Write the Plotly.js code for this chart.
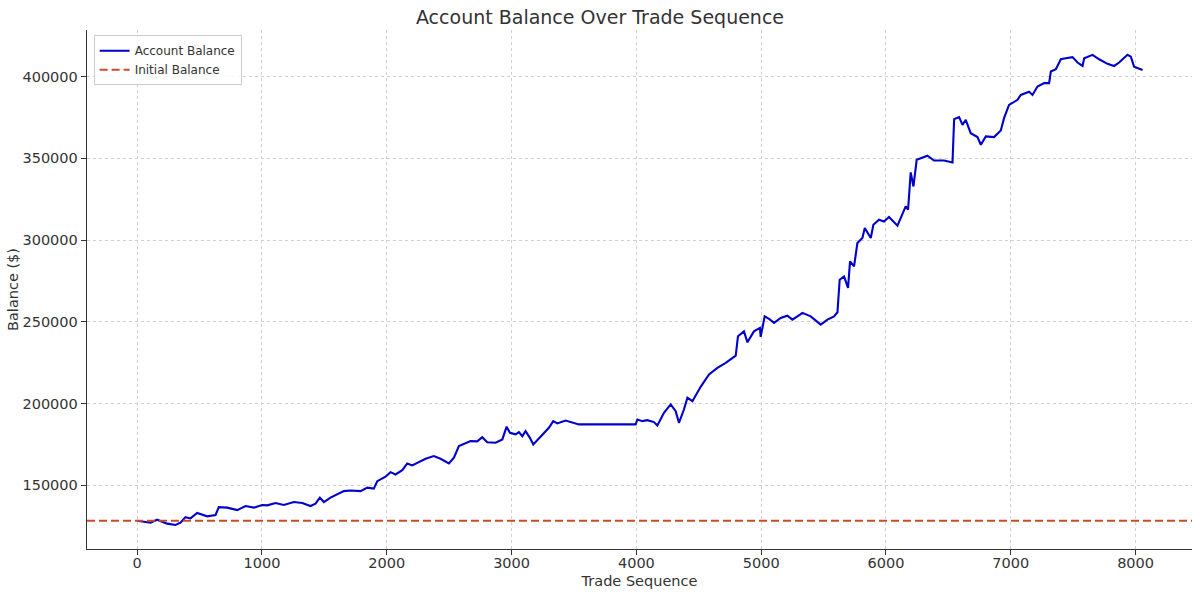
<!DOCTYPE html>
<html>
<head>
<meta charset="utf-8">
<script src="https://cdn.plot.ly/plotly-3.0.1.min.js"></script>
<style>html,body{margin:0;padding:0;background:#fff;}#chart{width:1200px;height:596px;}</style>
</head>
<body>
<div id="chart"></div>
<script>
const initialBalance = 128400;

const tradeIndex = [
  0, 26, 107, 160, 200, 240, 307, 347, 387, 427, 481, 521, 561, 628, 654, 721, 802, 868, 935, 1002,
  1042, 1109, 1175, 1255, 1323, 1389, 1429, 1464, 1496, 1549, 1616, 1656, 1710, 1790, 1844, 1896, 1924, 1990, 2030, 2070,
  2124, 2164, 2204, 2271, 2311, 2377, 2431, 2498, 2538, 2578, 2618, 2672, 2725, 2765, 2805, 2872, 2926, 2960, 2987, 3032,
  3059, 3086, 3112, 3147, 3174, 3219, 3259, 3299, 3334, 3366, 3433, 3500, 3540, 3994, 4008, 4048, 4088, 4141, 4168, 4221,
  4275, 4315, 4341, 4381, 4409, 4449, 4489, 4515, 4582, 4649, 4716, 4769, 4796, 4814, 4862, 4890, 4942, 4990, 4996, 5028,
  5063, 5103, 5156, 5210, 5250, 5311, 5330, 5397, 5477, 5531, 5584, 5611, 5629, 5664, 5696, 5712, 5744, 5771, 5811, 5830,
  5878, 5899, 5944, 5984, 6024, 6092, 6132, 6158, 6177, 6198, 6220, 6246, 6332, 6385, 6465, 6533, 6546, 6586, 6613, 6639,
  6679, 6733, 6760, 6800, 6866, 6920, 6946, 6986, 7054, 7080, 7147, 7174, 7214, 7267, 7307, 7321, 7361, 7401, 7441, 7494,
  7535, 7575, 7588, 7655, 7708, 7775, 7828, 7868, 7935, 7962, 7988, 8016, 8056
];

const accountBalance = [
  128400, 128200, 127200, 129000, 127600, 126600, 125800, 127200, 130600, 129800, 133100, 131900, 131100, 131900, 136700, 136400, 134900, 137400, 136400, 138000,
  137800, 139200, 138000, 139800, 139200, 137400, 138800, 142500, 139800, 142500, 144900, 146500, 146900, 146500, 148600, 148000, 152600, 155300, 158100, 156700,
  159300, 163400, 162200, 164700, 166300, 167900, 166300, 163400, 166900, 174000, 175500, 177100, 176900, 179500, 176400, 176100, 178100, 185900, 182200, 181200,
  182600, 180100, 183200, 179100, 175000, 178500, 182200, 185200, 189300, 187900, 189700, 188300, 187300, 187300, 190300, 189300, 189900, 188700, 186600, 194400,
  199500, 195400, 188300, 196400, 203600, 201500, 206600, 210300, 217800, 221900, 224900, 228000, 229400, 241200, 244200, 237500, 244200, 246300, 240800, 253400,
  251800, 249400, 252400, 253800, 251400, 254400, 255500, 253400, 248300, 251400, 253400, 255900, 275800, 277800, 270800, 287000, 283900, 298200, 301300, 307400,
  301300, 309400, 312500, 311400, 314100, 308800, 316600, 320600, 318600, 341400, 332800, 349100, 351600, 348700, 348700, 347500, 374000, 375200, 370500, 373600,
  365400, 363000, 358300, 363400, 363000, 367000, 374600, 382700, 385800, 388800, 390800, 388800, 393900, 396000, 396000, 403100, 404500, 410600, 411200, 411900,
  408600, 406500, 411200, 413300, 410600, 407800, 406500, 408600, 413300, 412200, 406100, 405100, 404100
];

const seriesNames = ["Account Balance", "Initial Balance"];
const xTicks = [0, 1000, 2000, 3000, 4000, 5000, 6000, 7000, 8000];
const yTicks = [150000, 200000, 250000, 300000, 350000, 400000];

const font = "DejaVu Sans, Liberation Sans, sans-serif";

const traces = [{
  x: tradeIndex,
  y: accountBalance,
  type: "scatter",
  mode: "lines",
  name: seriesNames[0],
  line: {color: "#0000cd", width: 2.1}
}];

const layout = {
  width: 1200,
  height: 596,
  paper_bgcolor: "#ffffff",
  plot_bgcolor: "#ffffff",
  margin: {l: 87, r: 8, t: 30, b: 47},
  font: {family: font, color: "#333333", size: 14},
  title: {
    text: "Account Balance Over Trade Sequence",
    font: {family: font, size: 19, color: "#333333"},
    x: 0.5, xanchor: "center",
    y: 0.971, yref: "container", yanchor: "middle"
  },
  xaxis: {
    title: {text: "Trade Sequence", font: {size: 14.5, color: "#333333"}, standoff: 6},
    range: [-402, 8452],
    tickvals: xTicks,
    tickformat: "d",
    showgrid: true,
    gridcolor: "#d0d0d0",
    griddash: "3px,3px",
    gridwidth: 1,
    zeroline: false,
    showline: true,
    linecolor: "#333333",
    linewidth: 1.3,
    ticks: "outside",
    ticklen: 5,
    tickcolor: "#333333",
    ticklabelstandoff: -5,
    tickfont: {size: 14.5, color: "#333333"}
  },
  yaxis: {
    title: {text: "Balance ($)", font: {size: 14.5, color: "#333333"}, standoff: 0},
    range: [111100, 428500],
    tickvals: yTicks,
    tickformat: "d",
    showgrid: true,
    gridcolor: "#d0d0d0",
    griddash: "3px,3px",
    gridwidth: 1,
    zeroline: false,
    showline: true,
    linecolor: "#333333",
    linewidth: 1.3,
    ticks: "outside",
    ticklen: 5,
    tickcolor: "#333333",
    tickfont: {size: 14.5, color: "#333333"}
  },
  shapes: [{
    type: "line",
    xref: "paper", x0: 0, x1: 1,
    yref: "y", y0: initialBalance, y1: initialBalance,
    line: {color: "#cc4a2a", width: 2, dash: "8px,4px"},
    name: seriesNames[1],
    showlegend: true
  }],
  showlegend: true,
  legend: {
    x: 0.006, y: 0.99, xanchor: "left", yanchor: "top",
    bgcolor: "rgba(255,255,255,0.85)",
    bordercolor: "#cccccc",
    borderwidth: 1,
    font: {size: 12, color: "#333333"},
    tracegroupgap: 0,
    itemwidth: 30
  }
};

Plotly.newPlot("chart", traces, layout, {displayModeBar: false, staticPlot: true});
</script>
</body>
</html>
